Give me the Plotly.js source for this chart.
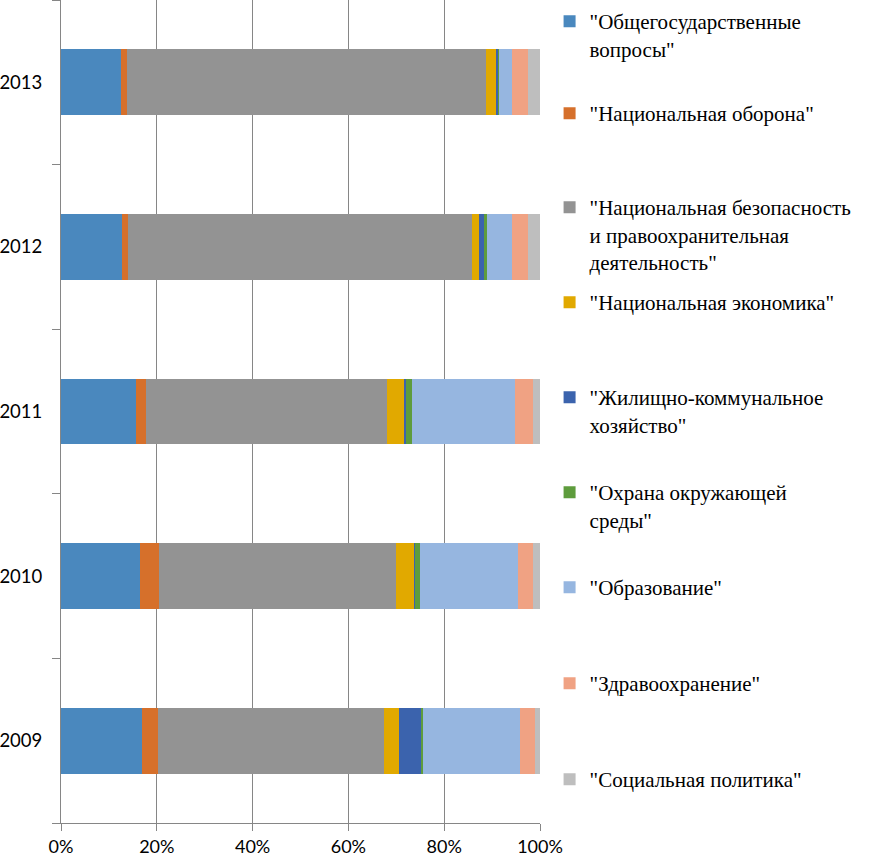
<!DOCTYPE html>
<html>
<head>
<meta charset="utf-8">
<script src="https://cdn.plot.ly/plotly-3.0.1.min.js"></script>
<style>
html,body{margin:0;padding:0;background:#fff;}
#chart{width:870px;height:857px;}
</style>
</head>
<body>
<div id="chart"></div>
<script>
// Years (category axis, bottom to top)
const years = ['2009', '2010', '2011', '2012', '2013'];

// Series names (legend text)
const seriesNames = [
  '"Общегосударственные<br>вопросы"',
  '"Национальная оборона"',
  '"Национальная безопасность<br>и правоохранительная<br>деятельность"',
  '"Национальная экономика"',
  '"Жилищно-коммунальное<br>хозяйство"',
  '"Охрана окружающей<br>среды"',
  '"Образование"',
  '"Здравоохранение"',
  '"Социальная политика"'
];

// Shares of expenditure, % (2009..2013)
const obshchegos   = [16.9, 16.4, 15.7, 12.7, 12.5];
const oborona      = [3.4, 4.1, 2.1, 1.3, 1.25];
const bezopasnost  = [47.1, 49.4, 50.4, 71.7, 75.0];
const ekonomika    = [3.2, 3.7, 3.5, 1.5, 2.1];
const zhkh         = [4.5, 0.4, 0.4, 1.1, 0.4];
const ekologiya    = [0.5, 0.9, 1.2, 0.6, 0.2];
const obrazovanie  = [20.2, 20.6, 21.6, 5.3, 2.7];
const zdravookhr   = [3.2, 3.1, 3.7, 3.3, 3.3];
const socpolitika  = [1.0, 1.4, 1.5, 2.5, 2.6];

// X axis tick labels
const xTickVals = [0, 20, 40, 60, 80, 100];
const xTickText = ['0%', '20%', '40%', '60%', '80%', '100%'];

const seriesValues = [obshchegos, oborona, bezopasnost, ekonomika, zhkh, ekologiya, obrazovanie, zdravookhr, socpolitika];
const colors = ['#4A88BE', '#D6702B', '#939393', '#E1A900', '#3B63AD', '#5E9C3D', '#96B6E0', '#F0A283', '#BEBEBE'];

// legend first-line centre pixel positions
const legendCentres = [21, 113, 207, 302, 397, 492, 587, 683, 779];
const plotTop = 0, plotH = 823;

const legendFont = 'Liberation Serif, Liberation Sans';
const sansFont = 'Lato';

const traces = seriesValues.map((vals, i) => ({
  type: 'bar',
  orientation: 'h',
  y: years,
  x: vals,
  name: seriesNames[i],
  marker: {color: colors[i], line: {width: 0}},
  legend: i === 0 ? 'legend' : 'legend' + (i + 1),
  hoverinfo: 'skip'
}));

const layout = {
  width: 870,
  height: 857,
  margin: {l: 61, r: 330, t: 0, b: 34},
  paper_bgcolor: '#fff',
  plot_bgcolor: '#fff',
  barmode: 'stack',
  barnorm: 'percent',
  bargap: 0.6,
  font: {family: legendFont, size: 21, color: '#000'},
  xaxis: {
    range: [0, 100],
    tickvals: xTickVals,
    ticktext: xTickText,
    showgrid: true,
    gridcolor: '#868686',
    gridwidth: 1,
    zeroline: false,
    showline: true,
    linecolor: '#868686',
    ticks: 'outside',
    ticklen: 7,
    tickcolor: '#868686',
    tickfont: {family: sansFont, size: 18, color: '#000'},
    fixedrange: true
  },
  yaxis: {
    type: 'category',
    categoryorder: 'array',
    categoryarray: years,
    showgrid: false,
    zeroline: false,
    showline: true,
    linecolor: '#868686',
    ticks: 'outside',
    tickson: 'boundaries',
    ticklen: 8,
    tickcolor: '#868686',
    ticklabelstandoff: 14,
    tickfont: {family: sansFont, size: 18.5, color: '#000'},
    fixedrange: true
  },
  showlegend: true
};

legendCentres.forEach((c, i) => {
  const key = i === 0 ? 'legend' : 'legend' + (i + 1);
  layout[key] = {
    x: 1.02,
    xanchor: 'left',
    y: 1 - (c - 20 - plotTop) / plotH,
    yanchor: 'top',
    valign: 'top',
    bgcolor: 'rgba(0,0,0,0)',
    borderwidth: 0,
    font: {family: legendFont, size: 21, color: '#000'},
    itemclick: false,
    itemdoubleclick: false
  };
});

Plotly.newPlot('chart', traces, layout, {staticPlot: true, displayModeBar: false});
</script>
</body>
</html>
